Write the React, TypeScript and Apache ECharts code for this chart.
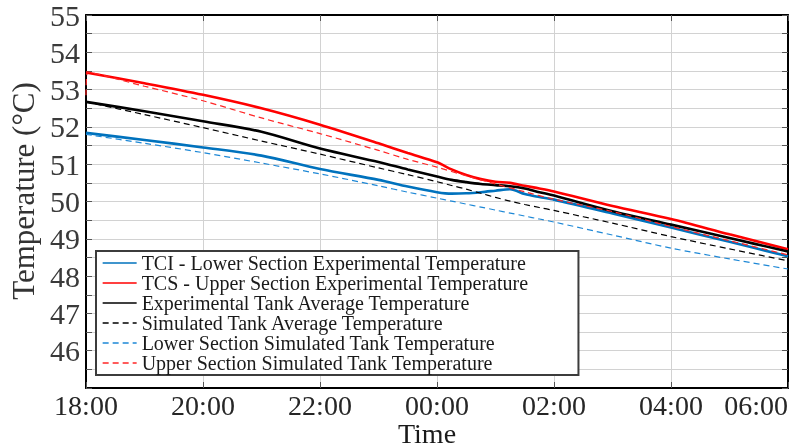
import React, { useEffect, useRef } from "react";
import * as echarts from "echarts";

// hours after 18:00
const hours = [0, 1, 2, 3, 4, 5, 5.5, 6, 6.25, 6.5, 6.75, 7, 7.25, 7.5, 7.75, 8, 9, 10, 11, 12];
const tciLower = [51.84, 51.65, 51.45, 51.23, 50.87, 50.58, 50.40, 50.25, 50.21, 50.22, 50.25, 50.29, 50.33, 50.20, 50.12, 50.05, 49.68, 49.30, 48.92, 48.53];
const tcsUpper = [53.46, 53.17, 52.86, 52.50, 52.06, 51.56, 51.30, 51.05, 50.86, 50.71, 50.60, 50.53, 50.50, 50.42, 50.35, 50.27, 49.88, 49.53, 49.12, 48.72];
const expAvg = [52.67, 52.42, 52.15, 51.87, 51.42, 51.06, 50.86, 50.67, 50.58, 50.52, 50.47, 50.44, 50.41, 50.35, 50.25, 50.16, 49.74, 49.38, 49.02, 48.66];
const simAvg = [52.67, 52.33, 51.98, 51.62, 51.27, 50.90, 50.72, 50.53, 50.43, 50.33, 50.22, 50.11, 50.01, 49.92, 49.84, 49.76, 49.42, 49.06, 48.73, 48.41];
const simLower = [51.80, 51.56, 51.31, 51.03, 50.74, 50.42, 50.25, 50.09, 50.01, 49.93, 49.85, 49.77, 49.69, 49.61, 49.53, 49.45, 49.10, 48.75, 48.46, 48.19];
const simUpperHours = [0, 0.03, 1, 2, 3, 4, 5, 5.5, 6, 6.5, 7, 7.5, 8, 9, 10, 11, 12];
const simUpper = [52.85, 53.47, 53.09, 52.70, 52.24, 51.82, 51.37, 51.13, 50.92, 50.69, 50.47, 50.26, 50.06, 49.73, 49.33, 48.95, 48.57];

const seriesNames = [
  "TCI - Lower Section Experimental Temperature",
  "TCS - Upper Section Experimental Temperature",
  "Experimental Tank Average Temperature",
  "Simulated Tank Average Temperature",
  "Lower Section Simulated Tank Temperature",
  "Upper Section Simulated Tank Temperature",
];

const FONT = "'Liberation Serif', 'Times New Roman', serif";

const pairs = (xs: number[], ys: number[]) => xs.map((x, i) => [x, ys[i]]);

export default function App() {
  const ref = useRef<HTMLDivElement>(null);
  useEffect(() => {
    if (!ref.current) return;
    const chart = echarts.init(ref.current, undefined, { renderer: "svg" });
    const mk = (name: string, data: number[][], color: string, dashed: boolean) => ({
      name,
      type: "line",
      data,
      symbol: "none",
      showSymbol: false,
      smooth: 0.3,
      lineStyle: dashed
        ? { color, width: 1.2, type: [6, 4] }
        : { color, width: 2.6 },
      itemStyle: { color },
    });
    const tickLine = { lineStyle: { color: "#555", width: 1 } };
    chart.setOption({
      animation: false,
      grid: { left: 86, right: 8, top: 11, bottom: 60 },
      xAxis: [
        {
          type: "value",
          min: 0,
          max: 12,
          interval: 2,
          position: "bottom",
          axisLine: { show: true, onZero: false, lineStyle: { color: "#000", width: 2 } },
          axisTick: { show: true, inside: true, length: 6, ...tickLine },
          axisLabel: {
            formatter: (v: number) => String((18 + v) % 24).padStart(2, "0") + ":00",
            fontFamily: FONT,
            fontSize: 28,
            color: "#262626",
            margin: 3,
            alignMaxLabel: "right",
          },
          splitLine: { show: true, lineStyle: { color: "#d2d2d2", width: 1 } },
        },
        {
          type: "value",
          min: 0,
          max: 12,
          interval: 2,
          position: "top",
          axisLine: { show: true, onZero: false, lineStyle: { color: "#000", width: 2 } },
          axisTick: { show: true, inside: true, length: 6, ...tickLine },
          axisLabel: { show: false },
          splitLine: { show: false },
        },
      ],
      yAxis: [
        {
          type: "value",
          min: 45,
          max: 55,
          interval: 0.5,
          position: "left",
          axisLine: { show: true, onZero: false, lineStyle: { color: "#000", width: 2 } },
          axisTick: { show: true, inside: true, length: 6, ...tickLine },
          axisLabel: {
            formatter: (v: number) => (Number.isInteger(v) && v !== 45 ? String(v) : ""),
            fontFamily: FONT,
            fontSize: 30,
            color: "#3a3a3a",
            margin: 6,
          },
          splitLine: { show: true, lineStyle: { color: "#d2d2d2", width: 1 } },
        },
        {
          type: "value",
          min: 45,
          max: 55,
          interval: 0.5,
          position: "right",
          axisLine: { show: true, onZero: false, lineStyle: { color: "#000", width: 2 } },
          axisTick: { show: true, inside: true, length: 6, ...tickLine },
          axisLabel: { show: false },
          splitLine: { show: false },
        },
      ],
      legend: {
        data: seriesNames,
        orient: "vertical",
        left: 96,
        top: 251,
        itemGap: 0,
        itemWidth: 34,
        itemHeight: 20,
        padding: [2, 50, 2, 6],
        backgroundColor: "#fff",
        borderColor: "#3c3c3c",
        borderWidth: 2,
        lineStyle: { width: 1.3 },
        itemStyle: { opacity: 0, borderWidth: 0 },
        textStyle: { fontFamily: FONT, fontSize: 20, color: "#1a1a1a", lineHeight: 20 },
      },
      graphic: [
        {
          type: "text",
          x: 23,
          y: 191,
          rotation: Math.PI / 2,
          style: {
            text: "Temperature (°C)",
            fontFamily: FONT,
            fontSize: 31,
            fill: "#333",
            textAlign: "center",
            textVerticalAlign: "middle",
          },
        },
        {
          type: "text",
          x: 427,
          y: 433.5,
          style: {
            text: "Time",
            fontFamily: FONT,
            fontSize: 28,
            fill: "#1a1a1a",
            textAlign: "center",
            textVerticalAlign: "middle",
          },
        },
      ],
      series: [
        mk(seriesNames[0], pairs(hours, tciLower), "#0072BD", false),
        mk(seriesNames[1], pairs(hours, tcsUpper), "#FF0000", false),
        mk(seriesNames[2], pairs(hours, expAvg), "#000000", false),
        mk(seriesNames[3], pairs(hours, simAvg), "#000000", true),
        mk(seriesNames[4], pairs(hours, simLower), "#1E88D6", true),
        mk(seriesNames[5], pairs(simUpperHours, simUpper), "#FF2626", true),
      ],
    });
    return () => chart.dispose();
  }, []);
  return (
    <div
      ref={ref}
      style={{ position: "fixed", left: 0, top: 0, width: 796, height: 448 }}
    />
  );
}
